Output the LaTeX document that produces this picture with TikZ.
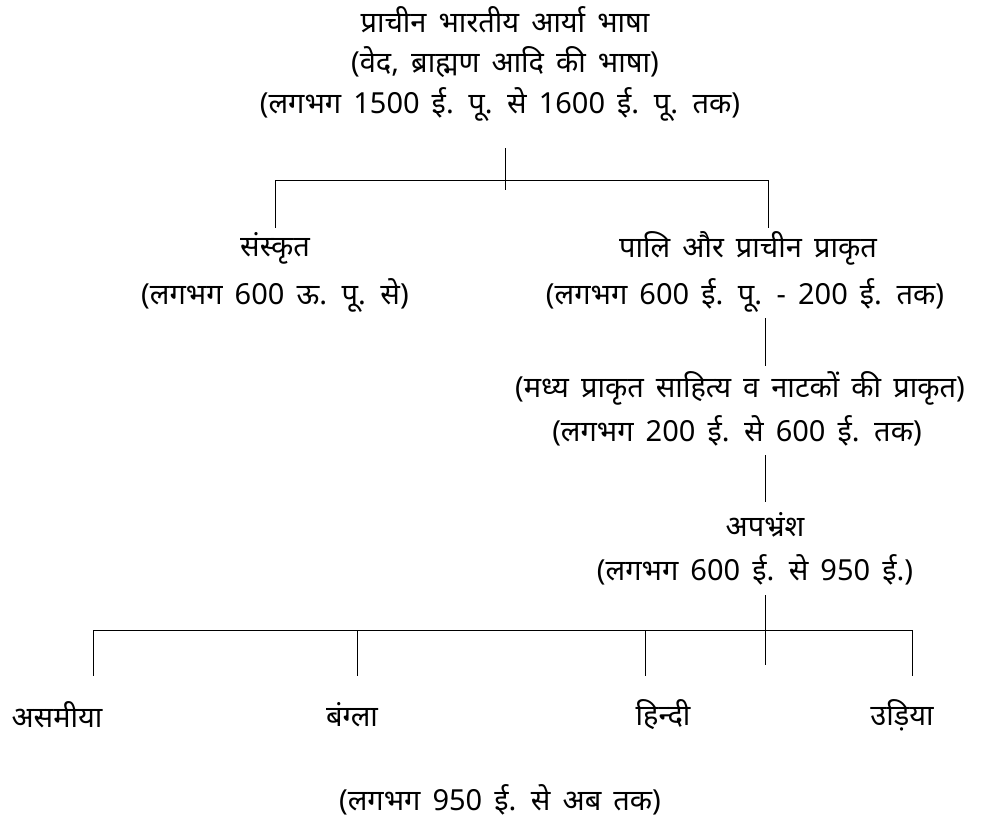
\documentclass[tikz,border=0pt]{standalone}
\usepackage{fontspec}
\newfontfamily\deva[Script=Devanagari,WordSpace=1.6]{Noto Sans}
\usepackage{tikz}
\usetikzlibrary{positioning}
\tikzset{
  lbl/.style={font=\deva\fontsize{29}{34}\selectfont, inner sep=0pt, anchor=center},
  branch/.style={line width=1pt}
}

\begin{document}
\begin{tikzpicture}[x=1pt,y=-1pt]
\useasboundingbox (0,0) rectangle (989,822);

% ---------------- Root ----------------
\node[lbl] (root1) at (505,20) {प्राचीन भारतीय आर्या भाषा};
\node[lbl] (root2) at (505,62) {(वेद, ब्राह्मण आदि की भाषा)};
\node[lbl] (root3) at (500,104) {(लगभग 1500 ई. पू. से 1600 ई. पू. तक)};

% ---------------- First split ----------------
\coordinate (top) at (505,148);
\coordinate (topend) at (505,190);
\coordinate (lbar) at (275,180);
\coordinate (rbar) at (768,180);
\coordinate (ldrop) at (275,228);
\coordinate (rdrop) at (768,228);

\draw[branch] (top) -- (topend);
\draw[branch] (lbar) -- (rbar);
\draw[branch] (lbar) -- (ldrop);
\draw[branch] (rbar) -- (rdrop);

\node[lbl] (skt) at (275,248) {संस्कृत};
\node[lbl] (sktdate) at (275,295) {(लगभग 600 ऊ. पू. से)};
\node[lbl] (pali) at (748,248) {पालि और प्राचीन प्राकृत};
\node[lbl] (palidate) at (745,295) {(लगभग 600 ई. पू. - 200 ई. तक)};

% ---------------- Middle line ----------------
\coordinate (m1) at (765,318);
\coordinate (m2) at (765,366);
\draw[branch] (m1) -- (m2);

\node[lbl] (mid) at (740,388) {(मध्य प्राकृत साहित्य व नाटकों की प्राकृत)};
\node[lbl] (middate) at (737,431) {(लगभग 200 ई. से 600 ई. तक)};

\coordinate (m3) at (765,455);
\coordinate (m4) at (765,502);
\draw[branch] (m3) -- (m4);

\node[lbl] (apa) at (765,525) {अपभ्रंश};
\node[lbl] (apadate) at (755,570) {(लगभग 600 ई. से 950 ई.)};

% ---------------- Second split ----------------
\coordinate (m5) at (765,595);
\coordinate (m6) at (765,665);
\draw[branch] (m5) -- (m6);

\coordinate (bl) at (93,630);
\coordinate (br) at (912,630);
\draw[branch] (bl) -- (br);

\foreach \x/\name in {93/asm, 357/ben, 645/hin, 912/odi}{
  \coordinate (\name top) at (\x,630);
  \coordinate (\name bot) at (\x,676);
  \draw[branch] (\name top) -- (\name bot);
}

\node[lbl] (asm) at (57,715) {असमीया};
\node[lbl] (ben) at (352,715) {बंग्ला};
\node[lbl] (hin) at (663,715) {हिन्दी};
\node[lbl] (odi) at (902,715) {उड़िया};

% ---------------- Bottom date ----------------
\node[lbl] (moddate) at (500,800) {(लगभग 950 ई. से अब तक)};

\end{tikzpicture}
\end{document}
